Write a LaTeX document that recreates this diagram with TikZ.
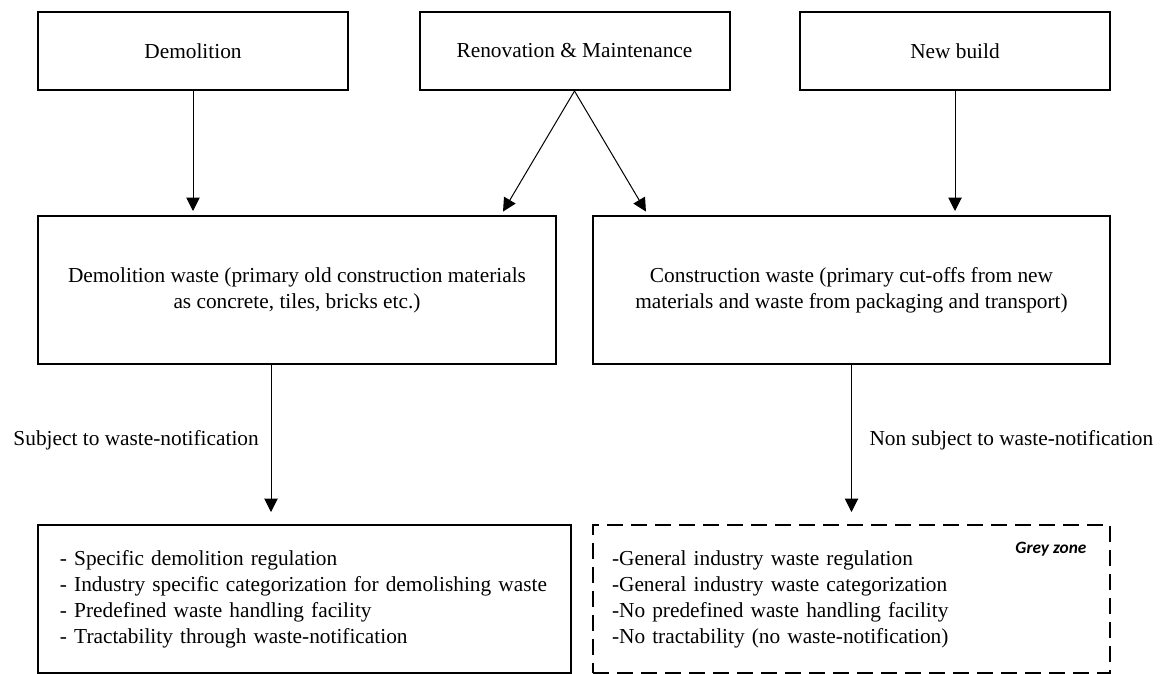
\documentclass[tikz,border=0pt]{standalone}
\usepackage{fontspec}
\setmainfont{Liberation Serif}
\newfontfamily\greyfont{Carlito}
\usetikzlibrary{arrows.meta,calc}

\tikzset{every picture/.style={line width=0.75pt}}
\tikzset{
  box/.style={draw, line width=1.5pt, align=center, inner sep=0pt},
  listbox/.style={box, align=left, minimum height=111pt},
  arr/.style={-{Triangle[length=10pt,width=10pt]}, line width=0.75pt},
}

\begin{document}
\begin{tikzpicture}[x=0.75pt,y=0.75pt,yscale=-1,xscale=1,font=\fontsize{16}{19.5}\selectfont]
    \useasboundingbox (0,0) rectangle (1161,674);

    %Shape: Rectangle [top row]
    \node [box, minimum width=232.5pt, minimum height=58.5pt] (demo) at (193,51) {Demolition};
    \node [box, minimum width=232.5pt, minimum height=58.5pt] (reno) at (574.5,51) {Renovation \& Maintenance};
    \node [box, minimum width=232.5pt, minimum height=58.5pt] (newb) at (955,51) {New build};

    %Shape: Rectangle [waste types]
    \node [box, minimum width=388.5pt, minimum height=111pt] (dwaste) at (297,290)
      {Demolition waste (primary old construction materials\\ as concrete, tiles, bricks etc.)};
    \node [box, minimum width=387.75pt, minimum height=111pt] (cwaste) at (851.5,290)
      {Construction waste (primary cut-offs from new\\ materials and waste from packaging and transport)};

    %Shape: Rectangle [regulation lists]
    \node [listbox, inner xsep=16.5pt, text width=366.75pt] (dlist) at (304.5,599)
      {- Specific demolition regulation\\
       - Industry specific categorization for demolishing waste\\
       - Predefined waste handling facility\\
       - Tractability through waste-notification};
    \node [listbox, dash pattern=on 12pt off 6pt, inner xsep=14.25pt, text width=359.25pt] (glist) at (851.5,599)
      {-General industry waste regulation\\
       -General industry waste categorization\\
       -No predefined waste handling facility\\
       -No tractability (no waste-notification)};

    % Text Node
    \node [anchor=east, inner sep=0.75pt, font=\greyfont\bfseries\itshape\fontsize{13}{15}\selectfont] (grey) at (1088,549) {Grey zone};
    % Text Node
    \node [anchor=west, inner sep=0.75pt] (subj) at (12,440) {Subject to waste-notification};
    % Text Node
    \node [anchor=west, inner sep=0.75pt] (nonsubj) at (868,440) {Non subject to waste-notification};

    %Straight Lines
    \draw [arr, shorten >=3pt] (demo.south) -- (demo.south |- dwaste.north);
    \draw [arr, shorten >=3pt] (reno.south) -- ($(dwaste.north east)+(-56,0)$);
    \draw [arr, shorten >=3pt] (reno.south) -- ($(cwaste.north west)+(56,0)$);
    \draw [arr, shorten >=3pt] (newb.south) -- (newb.south |- cwaste.north);
    \coordinate (dout) at ($(dwaste.south west)+(234,0)$);
    \draw [arr, shorten >=9pt] (dout) -- (dout |- dlist.north);
    \draw [arr, shorten >=9pt] (cwaste.south) -- (cwaste.south |- glist.north);

\end{tikzpicture}
\end{document}
